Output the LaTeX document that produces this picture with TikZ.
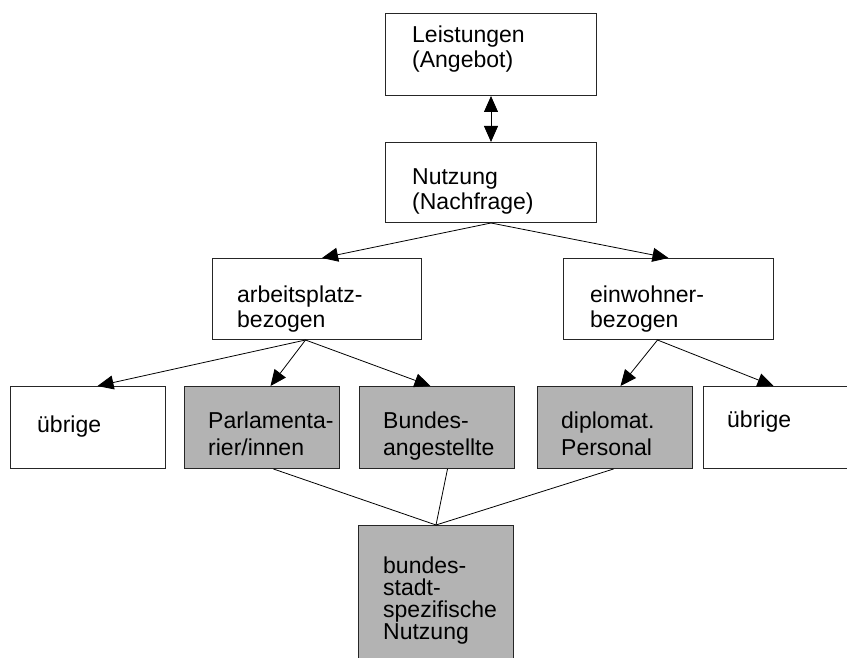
\documentclass[tikz,border=0pt]{standalone}
\usepackage{fontspec}
\setmainfont{Liberation Sans}
\usetikzlibrary{arrows.meta}
\definecolor{boxgray}{RGB}{179,179,179}

\begin{document}
\begin{tikzpicture}[x=1pt, y=-1pt,
    box/.style={draw=black!85, line width=1pt, anchor=north west, minimum height=82pt, inner sep=0pt},
    shaded/.style={box, fill=boxgray},
    txt/.style={anchor=base west, align=left, inner sep=0pt, font=\fontsize{23}{25}\selectfont},
    txtlow/.style={txt, font=\fontsize{23}{27}\selectfont},
    arr/.style={-{Triangle[length=16pt,width=14pt]}, line width=0.8pt},
    link/.style={line width=0.8pt}]
  \useasboundingbox (0,0) rectangle (847,658);
  \clip (0,0) rectangle (847,658);

  \node[box, minimum width=211pt] (leist) at (385,13) {};
  \node[box, minimum width=211pt, minimum height=80pt] (nutz) at (385,142) {};
  \node[box, minimum width=209pt, minimum height=81pt] (arbeit) at (212,258) {};
  \node[box, minimum width=210pt, minimum height=81pt] (einw) at (563,258) {};
  \node[box, minimum width=155pt] (uebrigL) at (10,386) {};
  \node[shaded, minimum width=155pt] (parl) at (184,386) {};
  \node[shaded, minimum width=155pt] (bund) at (359,386) {};
  \node[shaded, minimum width=155pt] (dipl) at (537,386) {};
  \node[box, minimum width=155pt] (uebrigR) at (703,386) {};
  \node[shaded, minimum width=155pt, minimum height=145pt] (bstadt) at (358,525) {};

  \node[txt] (leist-t) at ([shift={(27,55)}]leist.north west) {Leistungen\\(Angebot)};
  \node[txt] (nutz-t) at ([shift={(27,68)}]nutz.north west) {Nutzung\\(Nachfrage)};
  \node[txt] (arbeit-t) at ([shift={(25,69)}]arbeit.north west) {arbeitsplatz-\\bezogen};
  \node[txt] (einw-t) at ([shift={(27,69)}]einw.north west) {einwohner-\\bezogen};
  \node[txt] (uebrigL-t) at ([shift={(27,46)}]uebrigL.north west) {übrige};
  \node[txtlow] (parl-t) at ([shift={(24,69)}]parl.north west) {Parlamenta-\\rier/innen};
  \node[txtlow] (bund-t) at ([shift={(24,69)}]bund.north west) {Bundes-\\angestellte};
  \node[txtlow] (dipl-t) at ([shift={(24,69)}]dipl.north west) {diplomat.\\Personal};
  \node[txt] (uebrigR-t) at ([shift={(24,41)}]uebrigR.north west) {übrige};
  \node[txt, font=\fontsize{23}{22}\selectfont] (bstadt-t) at ([shift={(25,114)}]bstadt.north west) {bundes-\\stadt-\\spezifische\\Nutzung};

  \draw[arr, {Triangle[length=16pt,width=14pt]}-{Triangle[length=16pt,width=14pt]}] (leist.south) -- (nutz.north);
  \draw[arr] (nutz.south) -- ([xshift=5pt]arbeit.north);
  \draw[arr] (nutz.south) -- (einw.north);
  \draw[arr] ([xshift=-11.5pt]arbeit.south) -- ([xshift=9.5pt]uebrigL.north);
  \draw[arr] ([xshift=-11.5pt]arbeit.south) -- ([xshift=8.5pt]parl.north);
  \draw[arr] ([xshift=-11.5pt]arbeit.south) -- ([xshift=-6.5pt]bund.north);
  \draw[arr] ([xshift=-11pt]einw.south) -- ([xshift=5.5pt]dipl.north);
  \draw[arr] ([xshift=-11pt]einw.south) -- ([xshift=-7.5pt]uebrigR.north);
  \draw[link] ([xshift=11.5pt]parl.south) -- (bstadt.north);
  \draw[link] ([xshift=10.5pt]bund.south) -- (bstadt.north);
  \draw[link] ([xshift=-1.5pt]dipl.south) -- (bstadt.north);
\end{tikzpicture}
\end{document}
